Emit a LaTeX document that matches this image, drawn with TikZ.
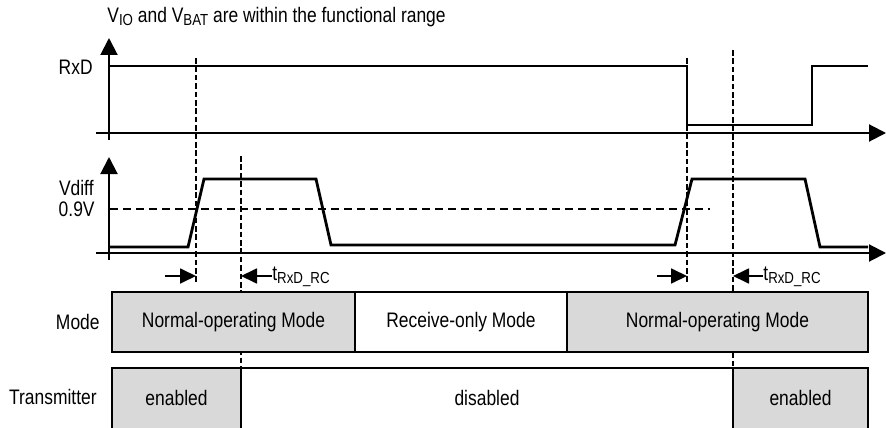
\documentclass[tikz,border=0pt]{standalone}
\usepackage{fontspec}
\setmainfont{Liberation Sans}[FakeStretch=0.83]
\usetikzlibrary{arrows.meta}

\definecolor{boxgray}{RGB}{217,217,217}
\newcommand{\lowtxt}[1]{\raisebox{-0.3ex}{\fontsize{8}{9}\selectfont #1}}

\begin{document}
\begin{tikzpicture}[x=0.5pt,y=-0.5pt,
    every node/.style={font=\fontsize{10.5}{12}\selectfont,inner sep=0pt},
    axis/.style={line width=1pt,-{Triangle[length=8.5pt,width=8.5pt]}},
    signal/.style={line width=1.4pt},
    marker/.style={line width=1.3pt,dash pattern=on 2.8pt off 1.4pt},
    level/.style={line width=1.2pt,dash pattern=on 4pt off 2.5pt},
    timearrow/.style={line width=0.9pt,-{Triangle[length=8pt,width=7.5pt]}},
    cell/.style={line width=0.6pt}]
    \useasboundingbox (0,0) rectangle (886,427);

    \node[anchor=west] (title) at (107,17)
      {V\lowtxt{IO} and V\lowtxt{BAT} are within the functional range};

    % RxD trace
    \draw[axis] (109,140) -- (109,38);
    \draw[axis] (96,133) -- (886,133);
    \node[anchor=east] (rxd) at (93,67) {RxD};
    \draw[signal] (110,66) -- (687,66) -- (687,125) -- (812,125) -- (812,66)
      -- (868,66);

    % Vdiff trace
    \draw[axis] (109,260) -- (109,157);
    \draw[axis] (96,253) -- (886,253);
    \node[anchor=east] (vdiff) at (94,188) {Vdiff};
    \node[anchor=east] (thr) at (95,209) {0.9V};
    \draw[level] (110,209) -- (710,209);
    \draw[signal] (110,247) -- (188,247) -- (204,179) -- (316,179)
      -- (331,245) -- (675,245) -- (692,179) -- (805,179) -- (820,247)
      -- (868,247);

    % transmitter row
    \draw[cell,fill=boxgray] (112,440) -- (112,368) -- (241,368) -- (241,440);
    \draw[draw=none] (112,368) rectangle (241,427) node[midway]
      (txen1) {enabled};
    \draw[cell] (241,368) -- (733,368);
    \draw[draw=none] (241,368) rectangle (733,427) node[midway]
      (txdis) {disabled};
    \draw[cell,fill=boxgray] (733,440) -- (733,368) -- (868,368) -- (868,440);
    \draw[draw=none] (733,368) rectangle (868,427) node[midway]
      (txen2) {enabled};
    \node[anchor=east] (tx) at (97,397) {Transmitter};

    % markers
    \draw[marker] (196,58) -- (196,283);
    \draw[marker] (241,156) -- (241,430);
    \draw[marker] (687,58) -- (687,283);
    \draw[marker] (733,50) -- (733,430);

    % recovery times
    \draw[timearrow] (165,276) -- (196,276);
    \draw[timearrow] (272,276) -- (241,276);
    \node[anchor=west] (trc1) at (272,277) {t\lowtxt{RxD\_RC}};
    \draw[timearrow] (657,276) -- (687,276);
    \draw[timearrow] (763,276) -- (733,276);
    \node[anchor=west] (trc2) at (763,277) {t\lowtxt{RxD\_RC}};

    % mode row
    \draw[cell,fill=boxgray] (112,292) rectangle (355,352) node[midway]
      (normal1) {Normal-operating Mode};
    \draw[cell,fill=white] (355,292) rectangle (567,352) node[midway]
      (rxonly) {Receive-only Mode};
    \draw[cell,fill=boxgray] (567,292) rectangle (868,352) node[midway]
      (normal2) {Normal-operating Mode};
    \node[anchor=east] (mode) at (100,322) {Mode};
  \end{tikzpicture}
\end{document}
